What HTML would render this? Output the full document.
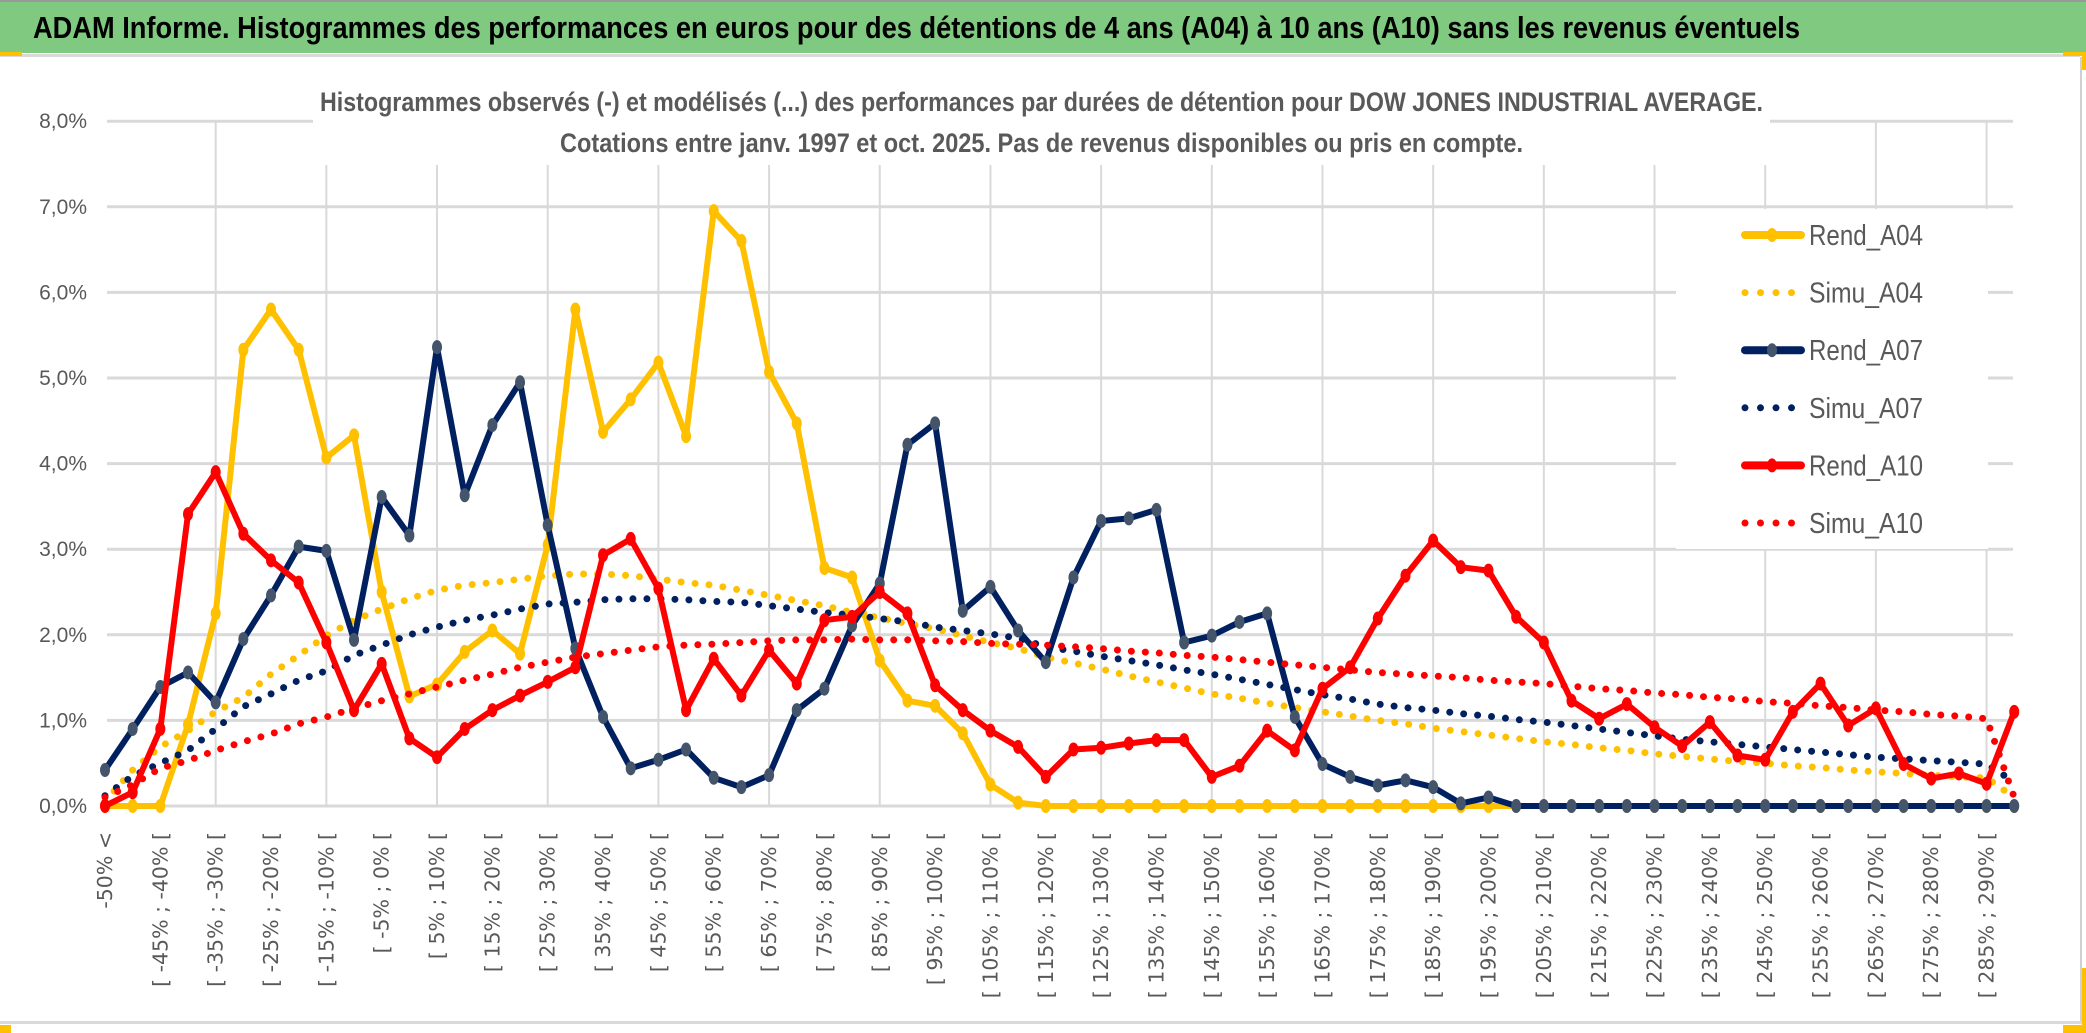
<!DOCTYPE html>
<html><head><meta charset="utf-8">
<style>
html,body{margin:0;padding:0;background:#fff;}
svg{display:block;}
</style></head>
<body>
<svg id="chart" width="2086" height="1033" viewBox="0 0 2086 1033" xmlns="http://www.w3.org/2000/svg">
  <rect x="0" y="0" width="2086" height="1033" fill="#fff"/>
  <rect x="0" y="2" width="2086" height="51" fill="#80C980"/>
  <rect x="0" y="0" width="2086" height="2" fill="#999"/>
  <rect x="0" y="54" width="2080" height="3" fill="#d9d9d9"/>
  <rect x="0" y="52" width="22" height="4" fill="#FFC000"/>
  <rect x="2063" y="52" width="23" height="4" fill="#FFC000"/>
  <rect x="2082" y="52" width="4" height="18" fill="#FFC000"/>
  <rect x="2080" y="57" width="2" height="966" fill="#d0d0d0"/>
  <rect x="0" y="1021" width="2082" height="3" fill="#d9d9d9"/>
  <rect x="0" y="1025" width="11" height="8" fill="#FFC000"/>
  <rect x="2063" y="1025" width="23" height="8" fill="#FFC000"/>
  <rect x="2082" y="968" width="4" height="62" fill="#FFC000"/>
  <text x="33" y="38" font-family="Liberation Sans Narrow, Liberation Sans, sans-serif" font-weight="bold" font-size="31" fill="#000" textLength="1767" lengthAdjust="spacingAndGlyphs">ADAM Informe. Histogrammes des performances en euros pour des détentions de 4 ans (A04) à 10 ans (A10) sans les revenus éventuels</text>
  <g id="grid"></g>
  <g id="series"></g>
  <rect x="313" y="75" width="1457" height="90" fill="#fff"/>
  <text x="320" y="111" font-family="Liberation Sans Narrow, Liberation Sans, sans-serif" font-weight="bold" font-size="27" fill="#595959" textLength="1443" lengthAdjust="spacingAndGlyphs">Histogrammes observés (-) et modélisés (...) des performances par durées de détention pour DOW JONES INDUSTRIAL AVERAGE.</text>
  <text x="560" y="152" font-family="Liberation Sans Narrow, Liberation Sans, sans-serif" font-weight="bold" font-size="27" fill="#595959" textLength="963" lengthAdjust="spacingAndGlyphs">Cotations entre janv. 1997 et oct. 2025. Pas de revenus disponibles ou pris en compte.</text>
  <g id="yaxis"></g>
  <g id="xaxis"></g>
  <g id="legend"></g>
</svg>
<script>
const categoryCount = 70;
const yTicks = [0,1,2,3,4,5,6,7,8];
const yTickLabels = ["0,0%","1,0%","2,0%","3,0%","4,0%","5,0%","6,0%","7,0%","8,0%"];
const xLabels = ["-50% <","[ -45% ; -40% [","[ -35% ; -30% [","[ -25% ; -20% [","[ -15% ; -10% [","[ -5% ; 0% [","[ 5% ; 10% [","[ 15% ; 20% [","[ 25% ; 30% [","[ 35% ; 40% [","[ 45% ; 50% [","[ 55% ; 60% [","[ 65% ; 70% [","[ 75% ; 80% [","[ 85% ; 90% [","[ 95% ; 100% [","[ 105% ; 110% [","[ 115% ; 120% [","[ 125% ; 130% [","[ 135% ; 140% [","[ 145% ; 150% [","[ 155% ; 160% [","[ 165% ; 170% [","[ 175% ; 180% [","[ 185% ; 190% [","[ 195% ; 200% [","[ 205% ; 210% [","[ 215% ; 220% [","[ 225% ; 230% [","[ 235% ; 240% [","[ 245% ; 250% [","[ 255% ; 260% [","[ 265% ; 270% [","[ 275% ; 280% [","[ 285% ; 290% ["];
const rendA04 = [0,0,0,0.95,2.25,5.33,5.8,5.33,4.07,4.33,2.5,1.28,1.42,1.8,2.05,1.78,3.05,5.8,4.37,4.75,5.18,4.32,6.95,6.6,5.07,4.47,2.78,2.67,1.7,1.23,1.17,0.85,0.25,0.04,0,0,0,0,0,0,0,0,0,0,0,0,0,0,0,0,0,0,0,0,0,0,0,0,0,0,0,0,0,0,0,0,0,0,0,0];
const simuA04 = [0.05,0.42,0.69,0.88,1.10,1.27,1.54,1.76,1.99,2.17,2.30,2.42,2.52,2.58,2.61,2.65,2.69,2.71,2.71,2.69,2.65,2.61,2.58,2.52,2.46,2.40,2.34,2.26,2.20,2.13,2.07,1.99,1.91,1.84,1.74,1.67,1.60,1.52,1.45,1.38,1.31,1.26,1.20,1.15,1.10,1.05,1.00,0.96,0.91,0.87,0.83,0.79,0.75,0.72,0.68,0.65,0.61,0.58,0.55,0.52,0.50,0.47,0.45,0.42,0.40,0.38,0.36,0.34,0.33,0.10];
const rendA07 = [0.42,0.9,1.39,1.56,1.21,1.95,2.46,3.03,2.98,1.94,3.61,3.16,5.36,3.63,4.45,4.95,3.28,1.84,1.04,0.44,0.54,0.66,0.33,0.22,0.36,1.12,1.37,2.11,2.6,4.22,4.47,2.28,2.56,2.05,1.68,2.67,3.33,3.36,3.46,1.91,1.99,2.15,2.25,1.04,0.49,0.34,0.24,0.30,0.22,0.03,0.1,0,0,0,0,0,0,0,0,0,0,0,0,0,0,0,0,0,0,0];
const simuA07 = [0.12,0.35,0.5,0.65,0.9,1.16,1.31,1.47,1.58,1.76,1.88,2.0,2.09,2.17,2.23,2.3,2.36,2.38,2.41,2.42,2.42,2.41,2.39,2.38,2.34,2.3,2.26,2.23,2.19,2.15,2.09,2.05,2.01,1.96,1.86,1.81,1.75,1.70,1.65,1.59,1.54,1.48,1.42,1.36,1.30,1.25,1.19,1.15,1.12,1.08,1.05,1.01,0.98,0.94,0.90,0.86,0.82,0.78,0.75,0.72,0.69,0.66,0.63,0.60,0.57,0.55,0.53,0.51,0.49,0.28];
const rendA10 = [0,0.16,0.9,3.41,3.9,3.18,2.87,2.61,1.91,1.12,1.66,0.79,0.57,0.9,1.12,1.29,1.45,1.62,2.93,3.12,2.54,1.12,1.72,1.29,1.82,1.43,2.17,2.21,2.5,2.25,1.41,1.12,0.88,0.69,0.34,0.66,0.68,0.73,0.77,0.77,0.34,0.47,0.88,0.65,1.37,1.62,2.19,2.69,3.1,2.79,2.75,2.21,1.91,1.23,1.02,1.19,0.92,0.7,0.98,0.59,0.54,1.1,1.43,0.94,1.14,0.49,0.32,0.38,0.26,1.1];
const simuA10 = [0.1,0.25,0.44,0.53,0.65,0.75,0.84,0.96,1.04,1.14,1.23,1.31,1.39,1.47,1.54,1.62,1.68,1.74,1.78,1.82,1.86,1.88,1.89,1.91,1.93,1.94,1.94,1.95,1.94,1.94,1.93,1.92,1.90,1.89,1.88,1.86,1.84,1.81,1.79,1.76,1.74,1.71,1.68,1.65,1.62,1.59,1.56,1.54,1.52,1.50,1.47,1.45,1.43,1.40,1.37,1.35,1.32,1.30,1.27,1.25,1.22,1.20,1.17,1.15,1.12,1.10,1.07,1.05,1.02,0.1];

const NS = "http://www.w3.org/2000/svg";
const X0 = 105, DX = 27.67, Y0 = 806, DY = 85.6;
const plotLeft = 107, plotRight = 2013;
function xPos(i){ return X0 + i*DX; }
function yPos(v){ return Y0 - v*DY; }
function mk(tag, attrs, parent){ const e=document.createElementNS(NS,tag); for(const k in attrs) e.setAttribute(k, attrs[k]); parent.appendChild(e); return e; }

const grid = document.getElementById('grid');
yTicks.forEach(function(t){
  const l = mk('line',{x1:plotLeft,x2:plotRight,y1:yPos(t),y2:yPos(t),stroke:'#d9d9d9','stroke-width':3},grid);
  
  
});
for(let i=4;i<categoryCount;i+=4){
  const l = mk('line',{x1:xPos(i),x2:xPos(i),y1:yPos(8),y2:Y0,stroke:'#d9d9d9','stroke-width':2},grid);
  
  
}
// legend box masks gridlines
const lb = mk('rect',{x:1676,y:209,width:312,height:340,fill:'#fff'},grid);



const yaxis = document.getElementById('yaxis');
yTicks.forEach(function(t,k){
  const tx = mk('text',{x:87,y:yPos(t)+7,'text-anchor':'end','font-family':'Liberation Sans Narrow, Liberation Sans, sans-serif','font-size':21,fill:'#595959'},yaxis);
  tx.textContent = yTickLabels[k];
  
  
});

const xaxis = document.getElementById('xaxis');
xLabels.forEach(function(lab,k){
  const i = k*2;
  const x = xPos(i)+7, y = 832;
  const tx = mk('text',{x:x,y:y,transform:'rotate(-90 '+x+' '+y+')','text-anchor':'end','font-family':'DejaVu Sans, sans-serif','font-size':20.5,fill:'#595959'},xaxis);
  tx.textContent = lab;
  
  
});

const series = document.getElementById('series');
function pts(arr){ return arr.map(function(v,i){ return xPos(i).toFixed(1)+','+yPos(v).toFixed(1); }).join(' '); }
function solid(arr,color,mcolor,name){
  const g = mk('g',{},series);
  
  
  const pl = mk('polyline',{points:pts(arr),fill:'none',stroke:color,'stroke-width':6,'stroke-linejoin':'round','stroke-linecap':'round'},g);
  
  
  arr.forEach(function(v,i){
    const c = mk('ellipse',{cx:xPos(i),cy:yPos(v),rx:5,ry:7,fill:mcolor},g);
    
    
  });
}
function dotted(arr,color,name){
  const pl = mk('polyline',{points:pts(arr),fill:'none',stroke:color,'stroke-width':7,'stroke-dasharray':'0 14','stroke-linecap':'round','stroke-linejoin':'round'},series);
  
  
}
solid(rendA04,'#FFC000','#FFC000','rend-a04');
dotted(simuA04,'#FFC000','simu-a04');
solid(rendA07,'#002060','#44546A','rend-a07');
dotted(simuA07,'#002060','simu-a07');
solid(rendA10,'#FF0000','#FF0000','rend-a10');
dotted(simuA10,'#FF0000','simu-a10');

const legend = document.getElementById('legend');
const legendNames = ["Rend_A04","Simu_A04","Rend_A07","Simu_A07","Rend_A10","Simu_A10"];
const legendColors = ["#FFC000","#FFC000","#002060","#002060","#FF0000","#FF0000"];
const legendMarker = ["#FFC000","","#44546A","","#FF0000",""];
legendNames.forEach(function(n,k){
  const y = 235 + k*57.6;
  const g = mk('g',{},legend);
  
  
  if(k%2===0){
    mk('line',{x1:1745,x2:1801,y1:y,y2:y,stroke:legendColors[k],'stroke-width':8,'stroke-linecap':'round'},g);
    mk('ellipse',{cx:1772,cy:y,rx:5,ry:7,fill:legendMarker[k]},g);
  } else {
    mk('line',{x1:1745,x2:1802,y1:y,y2:y,stroke:legendColors[k],'stroke-width':7,'stroke-dasharray':'0 15.5','stroke-linecap':'round'},g);
  }
  const t = mk('text',{x:1809,y:y+10,'font-family':'Liberation Sans Narrow, Liberation Sans, sans-serif','font-size':29,fill:'#595959',textLength:114,lengthAdjust:'spacingAndGlyphs'},g);
  t.textContent = n;
});
</script>
</body></html>
